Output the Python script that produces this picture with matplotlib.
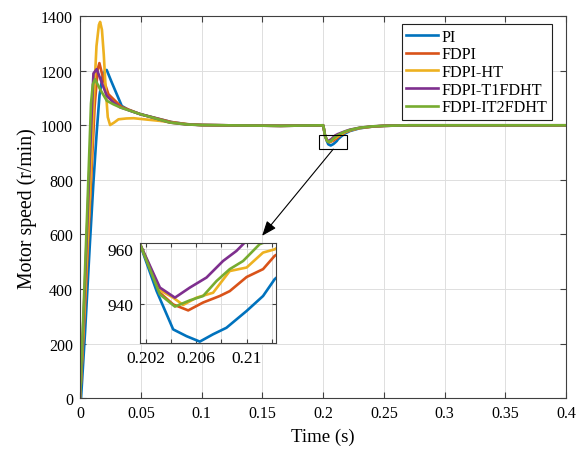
import matplotlib
matplotlib.use('Agg')
import matplotlib.pyplot as plt
import numpy as np
from matplotlib.patches import Rectangle
from matplotlib.ticker import FormatStrFormatter

plt.rcParams['font.family'] = ['Liberation Serif', 'DejaVu Serif']
plt.rcParams['mathtext.fontset'] = 'stix'

# series (time in s, speed in r/min)
labels = ['PI', 'FDPI', 'FDPI-HT', 'FDPI-T1FDHT', 'FDPI-IT2FDHT']
colors = ['#0072BD', '#D95319', '#EDB120', '#7E2F8E', '#77AC30']

t_pi = [0, 0.0008, 0.0041, 0.008, 0.011, 0.0137, 0.016, 0.0185, 0.0205, 0.0219, 0.026, 0.0343,
        0.04, 0.0494, 0.06, 0.075, 0.088, 0.1, 0.12, 0.165, 0.2, 0.2003,
        0.20155, 0.20287, 0.20418, 0.20524, 0.20629, 0.20734, 0.2084, 0.21, 0.2113, 0.21222,
        0.2145, 0.218, 0.222, 0.23, 0.24, 0.25, 0.27, 0.4]
v_pi = [0, 0, 241, 560, 791, 975, 1110, 1180, 1200, 1203, 1158, 1071,
        1056, 1041, 1029, 1012, 1004, 1001, 1000, 998, 1000, 995,
        961.9, 944.6, 930.5, 928, 926, 928.7, 931.1, 937.3, 942.8, 949,
        958, 970, 979, 989, 995, 998, 1000, 1000]

t_fdpi = [0, 0.004, 0.008, 0.012, 0.0145, 0.0159, 0.0192, 0.0233, 0.0288, 0.034,
          0.0494, 0.06, 0.075, 0.088, 0.1, 0.12, 0.165, 0.2, 0.2003,
          0.20155, 0.20313, 0.20418, 0.20537, 0.20655, 0.20787, 0.20866, 0.21, 0.2113, 0.21222,
          0.2145, 0.218, 0.222, 0.23, 0.24, 0.25, 0.27, 0.4]
v_fdpi = [0, 330, 700, 1070, 1205, 1228, 1169, 1114, 1090, 1068,
          1041, 1029, 1012, 1004, 1001, 1000, 998, 1000, 995,
          962, 944, 939.7, 937.5, 940.4, 942.8, 944.6, 949.8, 952.7, 957.6,
          964, 974, 981, 990, 995, 998, 1000, 1000]

t_ht = [0, 0.004, 0.008, 0.011, 0.0135, 0.0155, 0.0165, 0.018, 0.0195, 0.021, 0.0228, 0.0247,
        0.028, 0.0316, 0.038, 0.044, 0.055, 0.066, 0.077, 0.088, 0.1, 0.12, 0.165, 0.2, 0.2003,
        0.20155, 0.20313, 0.20418, 0.20497, 0.20603, 0.20734, 0.20866, 0.21, 0.2113, 0.21222,
        0.2145, 0.218, 0.222, 0.23, 0.24, 0.25, 0.27, 0.4]
v_ht = [0, 360, 740, 1060, 1290, 1368, 1379, 1350, 1260, 1140, 1030, 1001,
        1010, 1022, 1025, 1026, 1021, 1016, 1009, 1004, 1001, 1000, 998, 1000, 995,
        962, 945, 942.2, 939.5, 942.2, 944, 952, 953.3, 958.8, 960,
        966, 975, 982, 990, 995, 998, 1000, 1000]

t_t1 = [0, 0.004, 0.008, 0.011, 0.0137, 0.0178, 0.022, 0.0274, 0.0329, 0.0494,
        0.06, 0.074, 0.088, 0.1, 0.12, 0.165, 0.2, 0.2003,
        0.20155, 0.20313, 0.20432, 0.2055, 0.20682, 0.20813, 0.20919, 0.20985, 0.2113, 0.21222,
        0.2145, 0.218, 0.222, 0.23, 0.24, 0.25, 0.27, 0.4]
v_t1 = [0, 420, 880, 1190, 1206, 1157, 1108, 1084, 1066, 1041,
        1028, 1010, 1003, 1001, 1000, 998, 1000, 995,
        962, 945.9, 942.2, 945.9, 949.6, 955.7, 959.4, 962.5, 966, 968,
        972, 978, 984, 991, 996, 998, 1000, 1000]

t_it2 = [0, 0.003, 0.006, 0.009, 0.0105, 0.0123, 0.0165, 0.022, 0.0274, 0.0329, 0.0494,
         0.06, 0.074, 0.088, 0.1, 0.12, 0.165, 0.2, 0.2003,
         0.20155, 0.20313, 0.20432, 0.2055, 0.20655, 0.20761, 0.20866, 0.20972, 0.21103, 0.21222,
         0.2145, 0.218, 0.222, 0.23, 0.24, 0.25, 0.27, 0.4]
v_it2 = [0, 340, 700, 1080, 1150, 1169, 1132, 1090, 1077, 1066, 1041,
         1028, 1010, 1003, 1001, 1000, 998, 1000, 995,
         962, 943.4, 938.9, 941.2, 942.8, 948.3, 952.7, 955.7, 961.9, 964,
         970, 977, 983, 991, 996, 998, 1000, 1000]

series_t = [t_pi, t_fdpi, t_ht, t_t1, t_it2]
series_v = [v_pi, v_fdpi, v_ht, v_t1, v_it2]

grid_col = '#dedede'
edge_col = '#404040'

fig = plt.figure(figsize=(5.76, 4.52), dpi=100)
ax = fig.add_axes([0.139, 0.117, 0.844, 0.845])

for t, v, c, lab in zip(series_t, series_v, colors, labels):
    ax.plot(t, v, color=c, lw=1.9, label=lab)

ax.set_xlim(0, 0.4)
ax.set_ylim(0, 1400)
ax.set_xticks(np.arange(0, 0.401, 0.05))
ax.set_yticks(np.arange(0, 1401, 200))
ax.xaxis.set_major_formatter(FormatStrFormatter('%g'))
ax.grid(True, color=grid_col, lw=0.7)
ax.set_axisbelow(True)
ax.tick_params(direction='in', top=True, right=True, labelsize=11.5, length=4,
               color=edge_col, pad=5)
for s in ax.spines.values():
    s.set_color(edge_col)
    s.set_linewidth(0.8)
ax.set_xlabel('Time (s)', fontsize=13.5, labelpad=5)
ax.set_ylabel('Motor speed (r/min)', fontsize=14.2, labelpad=3)

leg = ax.legend(loc='upper right', bbox_to_anchor=(0.971, 0.979), fontsize=11.6,
                fancybox=False, framealpha=1, edgecolor='#202020', handlelength=1.95,
                borderpad=0.28, labelspacing=0.1, handletextpad=0.25, borderaxespad=0)
leg.get_frame().set_linewidth(0.8)

# zoom box and arrow
ax.add_patch(Rectangle((0.197, 912.6), 0.0226, 51.4, fill=False, ec='black', lw=0.8, zorder=5))
ax.annotate('', xy=(0.455, 0.476), xycoords='figure fraction',
            xytext=(0.2083, 912.6), textcoords='data',
            arrowprops=dict(arrowstyle='-|>,head_length=0.9,head_width=0.35',
                            color='black', lw=0.8, shrinkA=0, shrinkB=0))

# inset
axi = fig.add_axes([0.243, 0.239, 0.2356, 0.221])
for t, v, c in zip(series_t, series_v, colors):
    axi.plot(t, v, color=c, lw=1.9)
axi.set_xlim(0.20155, 0.2123)
axi.set_ylim(925.5, 962.3)
axi.set_xticks([0.202, 0.204, 0.206, 0.208, 0.210, 0.212])
axi.set_xticklabels(['0.202', '', '0.206', '', '0.21', ''])
axi.set_yticks([940, 960])
axi.grid(True, color=grid_col, lw=0.7)
axi.set_axisbelow(True)
axi.tick_params(direction='in', top=True, right=True, labelsize=12.5, length=3,
                color=edge_col, pad=5)
for s in axi.spines.values():
    s.set_color(edge_col)
    s.set_linewidth(0.8)

fig.savefig('out.png', dpi=100)
